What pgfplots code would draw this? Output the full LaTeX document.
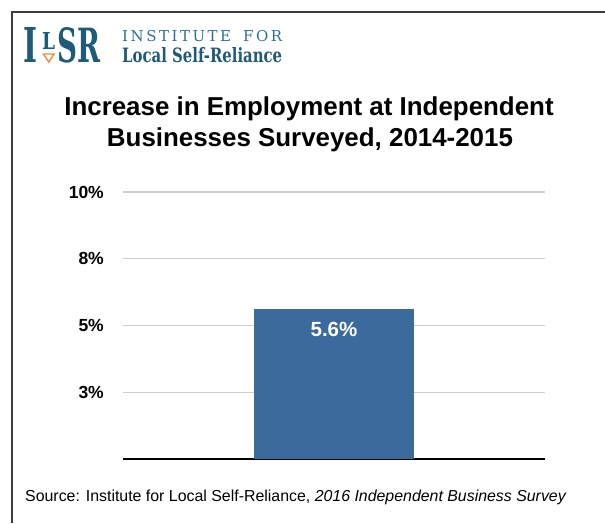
\documentclass[border=0pt]{standalone}
\usepackage{pgfplots}
\pgfplotsset{compat=1.18}
\usepackage{fontspec}
\setmainfont{Liberation Sans}
\newfontfamily\logofont{DejaVu Serif}
\usepackage{graphicx}
\definecolor{barblue}{HTML}{3B6A9D}
\definecolor{gridgray}{HTML}{CDCDCD}
\definecolor{framegray}{HTML}{3C3C3C}
\definecolor{logoteal}{HTML}{1E5B78}
\definecolor{logoteallight}{HTML}{2F7290}
\definecolor{logoorange}{HTML}{EE8A3A}
\begin{document}
\begin{tikzpicture}[x=1pt,y=1pt]
\useasboundingbox (0,0) rectangle (605,523);
\fill[white] (0,0) rectangle (605,523);
\draw[framegray, line width=1.8pt] (12,0) -- (12,511) -- (605,511);
% logo
\node[anchor=south west, inner sep=0pt, text=logoteal] at (23,460) {\resizebox{14pt}{35pt}{\logofont\bfseries I}};
\node[anchor=south west, inner sep=0pt, text=logoteal] at (42,473) {\resizebox{13pt}{17pt}{\logofont\bfseries L}};
\draw[logoorange, line width=1.4pt, line join=miter] (43.5,469) -- (54,469) -- (48.75,461) -- cycle;
\node[anchor=south west, inner sep=0pt, text=logoteal] at (57,460) {\resizebox{43pt}{35pt}{\logofont\bfseries SR}};
\node[anchor=base west, inner sep=0pt, text=logoteallight] at (122,481) {\logofont\fontsize{15}{15}\selectfont\makebox[160pt][s]{I\hfill N\hfill S\hfill T\hfill I\hfill T\hfill U\hfill T\hfill E\hfill\hspace{7pt}\hfill F\hfill O\hfill R}};
\node[anchor=south west, inner sep=0pt, text=logoteal] at (122,460) {\resizebox{160pt}{15pt}{\logofont\bfseries Local Self-Reliance}};
% title
\node[anchor=base, inner sep=0pt, font=\fontsize{25.9}{30}\selectfont\bfseries] at (309,407) {Increase in Employment at Independent};
\node[anchor=base, inner sep=0pt, font=\fontsize{25.9}{30}\selectfont\bfseries] at (310,376) {Businesses Surveyed, 2014-2015};
% source
\node[anchor=base west, inner sep=0pt, font=\fontsize{15.9}{18}\selectfont] at (25,22) {Source: Institute for Local Self-Reliance, \textit{2016 Independent Business Survey}};
\begin{axis}[
  at={(123pt,64pt)}, anchor=south west,
  scale only axis, width=422pt, height=267pt,
  xmin=-1.32, xmax=1.32, ymin=0, ymax=10,
  enlargelimits=false,
  ybar, bar width=160pt,
  axis x line=bottom, axis y line=left,
  y axis line style={draw=none},
  x axis line style={black, line width=1.6pt, -},
  xtick=\empty,
  ytick={2.5,5,7.5,10},
  yticklabels={3\%,5\%,8\%,10\%},
  major tick length=0pt,
  ymajorgrids,
  grid style={draw=gridgray, line width=1.3pt},
  yticklabel style={font=\fontsize{17.5}{17.5}\selectfont\bfseries, inner sep=0pt, xshift=-19pt},
  nodes near coords={\pgfmathprintnumber[fixed,precision=1,fixed zerofill,assume math mode=true]{\pgfplotspointmeta}\%},
  every node near coord/.append style={font=\fontsize{20.5}{20.5}\selectfont\bfseries, text=white, anchor=center, yshift=-19.5pt},
]
\addplot[fill=barblue, draw=none] coordinates {(0,5.6)};
\end{axis}
\end{tikzpicture}
\end{document}
